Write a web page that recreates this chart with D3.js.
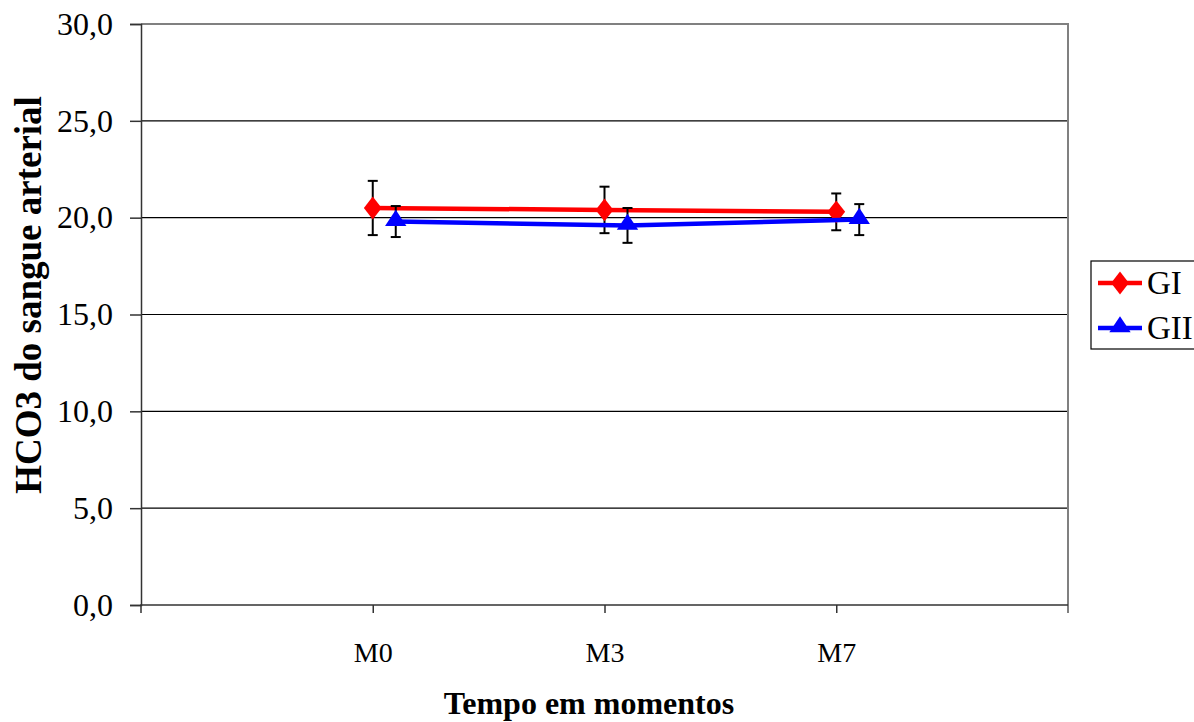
<!DOCTYPE html>
<html>
<head>
<meta charset="utf-8">
<script src="https://cdn.jsdelivr.net/npm/d3@7"></script>
<style>
  body { margin: 0; background: #fff; }
  svg text { font-family: "Liberation Serif", "DejaVu Serif", serif !important; }
</style>
</head>
<body>
<script>
const width = 1194;
const height = 722;

// Data
const moments = ['M0', 'M3', 'M7'];
const seriesNames = ['GI', 'GII'];
const giMean = [20.5, 20.4, 20.3];
const giErr = [1.4, 1.2, 0.95];
const giiMean = [19.8, 19.6, 19.9];
const giiErr = [0.8, 0.9, 0.8];
const yTicks = [0, 5, 10, 15, 20, 25, 30];

const plot = { left: 141, right: 1068, top: 24, bottom: 605 };
const serif = '"Liberation Serif", "Times New Roman", serif';

const svg = d3.select('body')
  .append('svg')
  .attr('width', width)
  .attr('height', height)
  .attr('font-family', serif);

const x = d3.scalePoint()
  .domain(moments)
  .range([plot.left, plot.right])
  .padding(1);

const y = d3.scaleLinear()
  .domain([0, 30])
  .range([plot.bottom, plot.top]);

const fmt = d => d.toFixed(1).replace('.', ',');

// Gridlines
svg.append('g')
  .selectAll('line')
  .data(yTicks.filter(d => d > 0 && d < 30))
  .enter()
  .append('line')
  .attr('x1', plot.left)
  .attr('x2', plot.right)
  .attr('y1', d => y(d))
  .attr('y2', d => y(d))
  .style('stroke', '#000')
  .style('stroke-width', 1.2);

// Plot border (top, right)
svg.append('path')
  .attr('d', `M${plot.left},${plot.top}H${plot.right}V${plot.bottom + 8}`)
  .style('fill', 'none')
  .style('stroke', '#808080')
  .style('stroke-width', 2);

// Y axis
const yAxis = d3.axisLeft(y)
  .tickValues(yTicks)
  .tickSize(11)
  .tickPadding(17)
  .tickFormat(fmt);

const yG = svg.append('g')
  .attr('transform', `translate(${plot.left},0)`)
  .call(yAxis)
  .attr('font-family', serif);
yG.select('.domain').style('stroke', '#333').style('stroke-width', 1.5);
yG.selectAll('.tick line').style('stroke', '#333').style('stroke-width', 1.5);
yG.selectAll('.tick text')
  .style('font-family', serif)
  .style('font-size', '32px')
  .style('fill', '#000');

// X axis
const xAxis = d3.axisBottom(x)
  .tickSize(8)
  .tickPadding(29);

const xG = svg.append('g')
  .attr('transform', `translate(0,${plot.bottom})`)
  .call(xAxis)
  .attr('font-family', serif);
xG.select('.domain').attr('d', `M${plot.left},8V0H${plot.right}`)
  .style('stroke', '#333').style('stroke-width', 1.5);
xG.selectAll('.tick line').style('stroke', '#333').style('stroke-width', 1.5);
xG.selectAll('.tick text')
  .style('font-family', serif)
  .style('font-size', '28px')
  .style('fill', '#000');

// Axis titles
svg.append('text')
  .attr('x', 589)
  .attr('y', 714)
  .attr('text-anchor', 'middle')
  .style('font-family', serif)
  .style('font-size', '32px')
  .style('font-weight', 'bold')
  .text('Tempo em momentos');

svg.append('text')
  .attr('transform', 'translate(41,295) rotate(-90)')
  .attr('text-anchor', 'middle')
  .style('font-family', serif)
  .style('font-size', '37px')
  .style('font-weight', 'bold')
  .text('HCO3 do sangue arterial');

// Series
const series = [
  { name: seriesNames[0], mean: giMean, err: giErr, color: '#ff0000', shape: d3.symbolDiamond, dx: 0 },
  { name: seriesNames[1], mean: giiMean, err: giiErr, color: '#0000ff', shape: d3.symbolTriangle, dx: 23 }
];

const markerTransform = (s, px, py) => s.shape === d3.symbolDiamond
  ? `translate(${px},${py}) scale(1.35,1)`
  : `translate(${px},${py - 1}) scale(1.15,1)`;

series.forEach((s) => {
  const pts = moments.map((m, i) => ({ x: x(m) + s.dx, v: s.mean[i], e: s.err[i] }));

  const line = d3.line().x(d => d.x).y(d => y(d.v));
  svg.append('path')
    .datum(pts)
    .attr('d', line)
    .style('fill', 'none')
    .style('stroke', s.color)
    .style('stroke-width', 4.5);

  const eb = svg.append('g').selectAll('g').data(pts).enter().append('g')
    .style('stroke', '#000')
    .style('stroke-width', 2);
  eb.append('line')
    .attr('x1', d => d.x).attr('x2', d => d.x)
    .attr('y1', d => y(d.v + d.e)).attr('y2', d => y(d.v - d.e));
  eb.append('line')
    .attr('x1', d => d.x - 5).attr('x2', d => d.x + 5)
    .attr('y1', d => y(d.v + d.e)).attr('y2', d => y(d.v + d.e));
  eb.append('line')
    .attr('x1', d => d.x - 5).attr('x2', d => d.x + 5)
    .attr('y1', d => y(d.v - d.e)).attr('y2', d => y(d.v - d.e));

  svg.append('g').selectAll('path').data(pts).enter().append('path')
    .attr('d', d3.symbol().type(s.shape).size(150))
    .attr('transform', d => markerTransform(s, d.x, y(d.v)))
    .style('fill', s.color);
});

// Legend
const legend = svg.append('g');
legend.append('rect')
  .attr('x', 1091)
  .attr('y', 261)
  .attr('width', 120)
  .attr('height', 88)
  .style('fill', '#fff')
  .style('stroke', '#000')
  .style('stroke-width', 1.2);

series.forEach((s, i) => {
  const ly = 283 + i * 45;
  legend.append('line')
    .attr('x1', 1098).attr('x2', 1142)
    .attr('y1', ly).attr('y2', ly)
    .style('stroke', s.color)
    .style('stroke-width', 4.5);
  legend.append('path')
    .attr('d', d3.symbol().type(s.shape).size(150))
    .attr('transform', markerTransform(s, 1120, ly))
    .style('fill', s.color);
  legend.append('text')
    .attr('x', 1147)
    .attr('y', ly + 11)
    .style('font-family', serif)
    .style('font-size', '33px')
    .text(s.name);
});
</script>
</body>
</html>
